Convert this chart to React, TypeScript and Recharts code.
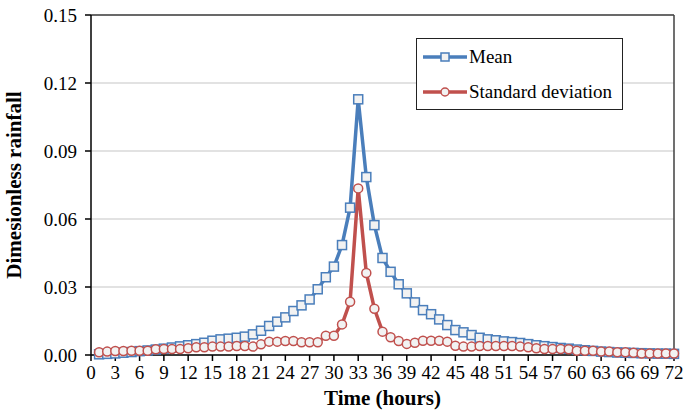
import React from 'react'
import { LineChart, Line, XAxis, YAxis, CartesianGrid, ReferenceLine } from 'recharts'

// hours 1..72
const hours = [
  1, 2, 3, 4, 5, 6, 7, 8, 9, 10, 11, 12, 13, 14, 15, 16, 17, 18, 19, 20, 21, 22, 23, 24,
  25, 26, 27, 28, 29, 30, 31, 32, 33, 34, 35, 36, 37, 38, 39, 40, 41, 42, 43, 44, 45, 46, 47, 48,
  49, 50, 51, 52, 53, 54, 55, 56, 57, 58, 59, 60, 61, 62, 63, 64, 65, 66, 67, 68, 69, 70, 71, 72,
]

const meanValues = [
  0.0003, 0.0005, 0.0007, 0.001, 0.0013, 0.0017, 0.002, 0.0024, 0.0028, 0.0033, 0.0038, 0.0043,
  0.0048, 0.0054, 0.0063, 0.0069, 0.0072, 0.0076, 0.0081, 0.0091, 0.0107, 0.0128, 0.0147, 0.0166,
  0.0194, 0.0219, 0.0245, 0.029, 0.0343, 0.039, 0.0485, 0.065, 0.1128, 0.0785, 0.0573, 0.0428,
  0.0367, 0.0312, 0.0272, 0.0232, 0.0198, 0.018, 0.0157, 0.0132, 0.011, 0.01, 0.0088, 0.0076,
  0.0069, 0.0065, 0.006, 0.0057, 0.0053, 0.0048, 0.0043, 0.0039, 0.0035, 0.0031, 0.0028, 0.0024,
  0.0021, 0.0018, 0.0015, 0.0013, 0.0011, 0.001, 0.0009, 0.0008, 0.0007, 0.0006, 0.0006, 0.0005,
]

const sdValues = [
  0.0012, 0.0015, 0.0018, 0.0018, 0.0019, 0.0019, 0.0019, 0.0025, 0.0026, 0.0026, 0.0026, 0.003,
  0.0034, 0.0034, 0.0037, 0.0037, 0.0037, 0.004, 0.004, 0.0037, 0.0047, 0.0059, 0.0059, 0.0062,
  0.0062, 0.0056, 0.0056, 0.0056, 0.0085, 0.0085, 0.0135, 0.0235, 0.0735, 0.0362, 0.0204, 0.0103,
  0.0078, 0.0062, 0.0049, 0.0054, 0.0063, 0.0063, 0.0063, 0.0059, 0.0041, 0.0037, 0.0037, 0.004,
  0.004, 0.004, 0.004, 0.004, 0.0037, 0.0034, 0.003, 0.0026, 0.0026, 0.0026, 0.0025, 0.0019,
  0.0019, 0.0019, 0.0015, 0.0015, 0.0012, 0.0012, 0.001, 0.0007, 0.0007, 0.0007, 0.0007, 0.0007,
]

const xTicks = [0, 3, 6, 9, 12, 15, 18, 21, 24, 27, 30, 33, 36, 39, 42, 45, 48, 51, 54, 57, 60, 63, 66, 69, 72]
const yTicks = [0, 0.03, 0.06, 0.09, 0.12, 0.15]

const BLUE = '#4a7ebb'
const RED = '#c0504d'
const MARKER_FILL = '#f2f2f2'
const FONT = '"Liberation Serif", "Times New Roman", serif'

const data = hours.map((h, i) => ({ hour: h, mean: meanValues[i], sd: sdValues[i] }))

const SquareDot = (props: any) => {
  const { cx, cy, index } = props
  if (cx == null || cy == null) return null
  return <rect key={`sq-${index}`} x={cx - 4.5} y={cy - 4.5} width={9} height={9} fill={MARKER_FILL} stroke={BLUE} strokeWidth={1.5} />
}

const CircleDot = (props: any) => {
  const { cx, cy, index } = props
  if (cx == null || cy == null) return null
  return <circle key={`ci-${index}`} cx={cx} cy={cy} r={4.5} fill={MARKER_FILL} stroke={RED} strokeWidth={1.5} />
}

// legend box drawn over the plot, top right
const LegendBox = () => (
  <div
    style={{
      position: 'absolute',
      left: 416,
      top: 38,
      width: 205,
      height: 70,
      border: '1.5px solid #222',
      background: '#fff',
      fontFamily: FONT,
      fontSize: 19,
      color: '#000',
    }}
  >
    <div style={{ display: 'flex', alignItems: 'center', height: 36, paddingLeft: 6 }}>
      <svg width={44} height={12}>
        <line x1={0} y1={6} x2={44} y2={6} stroke={BLUE} strokeWidth={3.5} />
        <rect x={18} y={2} width={8} height={8} fill={MARKER_FILL} stroke={BLUE} strokeWidth={1.5} />
      </svg>
      <span style={{ marginLeft: 2 }}>Mean</span>
    </div>
    <div style={{ display: 'flex', alignItems: 'center', height: 34, paddingLeft: 6 }}>
      <svg width={44} height={12}>
        <line x1={0} y1={6} x2={44} y2={6} stroke={RED} strokeWidth={3.5} />
        <circle cx={22} cy={6} r={4} fill={MARKER_FILL} stroke={RED} strokeWidth={1.5} />
      </svg>
      <span style={{ marginLeft: 2 }}>Standard deviation</span>
    </div>
  </div>
)

export default function App() {
  return (
    <div style={{ position: 'absolute', left: 0, top: 0, width: 684, height: 415, background: '#fff' }}>
      <LineChart width={684} height={415} data={data} margin={{ top: 15, right: 10, left: 11, bottom: 10 }}>
        <CartesianGrid vertical={false} stroke="#d9d9d9" strokeWidth={1.5} />
        <XAxis
          dataKey="hour"
          type="number"
          domain={[0, 72]}
          ticks={xTicks}
          interval={0}
          height={50}
          tickSize={6}
          tickMargin={5}
          stroke="#000"
          strokeWidth={1.5}
          tick={{ fill: '#000', fontFamily: FONT, fontSize: 19 }}
          label={{
            value: 'Time (hours)',
            position: 'insideBottom',
            offset: 0,
            style: { fill: '#000', fontFamily: FONT, fontSize: 21, fontWeight: 'bold' },
          }}
        />
        <YAxis
          domain={[0, 0.15]}
          ticks={yTicks}
          interval={0}
          width={80}
          tickSize={6}
          tickMargin={8}
          stroke="#000"
          strokeWidth={1.5}
          tickFormatter={(v: number) => v.toFixed(2)}
          tick={{ fill: '#000', fontFamily: FONT, fontSize: 19 }}
          label={{
            value: 'Dimesionless rainfall',
            angle: -90,
            position: 'insideLeft',
            offset: 3,
            style: { textAnchor: 'middle', fill: '#000', fontFamily: FONT, fontSize: 21, fontWeight: 'bold' },
          }}
        />
        <ReferenceLine y={0.15} stroke="#404040" strokeWidth={1.5} />
        <ReferenceLine x={72} stroke="#404040" strokeWidth={1.5} />
        <Line dataKey="mean" name="Mean" stroke={BLUE} strokeWidth={3.5} dot={SquareDot} isAnimationActive={false} />
        <Line dataKey="sd" name="Standard deviation" stroke={RED} strokeWidth={3.5} dot={CircleDot} isAnimationActive={false} />
      </LineChart>
      <LegendBox />
    </div>
  )
}
